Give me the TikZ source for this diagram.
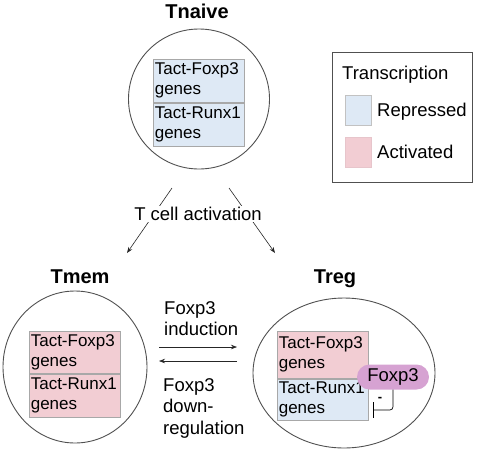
\documentclass[tikz,border=0pt]{standalone}
\usepackage{fontspec}
\setmainfont{Liberation Sans}
\usetikzlibrary{shapes.geometric,arrows.meta}
\definecolor{reprblue}{HTML}{DEE9F5}
\definecolor{actpink}{HTML}{F2CDD3}
\definecolor{pillpurple}{HTML}{D6A2D2}
\definecolor{cellgray}{HTML}{505050}
\definecolor{boxgray}{HTML}{A8A8A8}
\newcommand{\genesize}{\fontsize{17}{20}\selectfont}
\newcommand{\labsize}{\fontsize{18.5}{21.5}\selectfont}
\newcommand{\ttlsize}{\fontsize{20}{24}\selectfont\bfseries}
\tikzset{cell/.style={ellipse, draw=cellgray, line width=0.9pt, inner sep=0pt}}
\tikzset{genebox/.style={draw=boxgray, line width=0.6pt, text width=88pt, minimum height=43pt, inner xsep=1.5pt, inner ysep=2pt, align=left, anchor=north west, font=\genesize}}
\tikzset{repr/.style={genebox, fill=reprblue}, actv/.style={genebox, fill=actpink}}
\tikzset{arr/.style={-{Stealth[length=6pt,width=4.5pt]}, line width=0.6pt, draw=black!85}}
\tikzset{ttl/.style={font=\ttlsize, inner sep=0pt}}
\tikzset{lab/.style={font=\labsize, inner sep=0pt, align=left}}
\tikzset{swatch/.style={minimum width=26pt, minimum height=30pt, inner sep=0pt, line width=0.6pt}}

\begin{document}
\begin{tikzpicture}[x=1pt,y=-1pt]
\useasboundingbox (0,0) rectangle (482,451);

% cells
\node[ttl, anchor=base] (tnaive) at (197,18) {Tnaive};
\node[cell, minimum width=141pt, minimum height=140pt] (naive) at (199,99) {};
\node[repr] (naiveF) at (153,59) {Tact-Foxp3\\genes};
\node[repr] (naiveR) at (naiveF.south west) {Tact-Runx1\\genes};

\node[ttl, anchor=base] (tmem) at (80,283) {Tmem};
\node[cell, minimum width=144pt, minimum height=152pt] (mem) at (75,367) {};
\node[actv, minimum height=42pt] (memF) at (29,331) {Tact-Foxp3\\genes};
\node[actv] (memR) at (memF.south west) {Tact-Runx1\\genes};

\node[ttl, anchor=base] (ttreg) at (335,283) {Treg};
\node[cell, minimum width=182pt, minimum height=150pt] (treg) at (344,373) {};
\node[actv, minimum height=47pt] (tregF) at (277,331) {Tact-Foxp3\\genes};
\node[repr, minimum height=41pt] (tregR) at (tregF.south west) {Tact-Runx1\\genes};
\node[fill=pillpurple, rounded corners=12.5pt, minimum width=72pt, minimum height=25pt, inner sep=0pt, font=\labsize] (fox) at (393,377) {Foxp3};
\draw[line width=0.7pt] (fox.south) -- (393,403) .. controls (393,410) .. (386,410) -- (373,410);
\draw[line width=0.7pt] (373,402) -- (373,418);
\node[inner sep=0pt, font=\fontsize{13}{13}\selectfont\bfseries] (minus) at (380,399) {-};

% activation
\coordinate (actL0) at (172,188); \coordinate (actL1) at (127,253);
\coordinate (actR0) at (229,188); \coordinate (actR1) at (275,253);
\draw[arr] (actL0) -- (actL1);
\draw[arr] (actR0) -- (actR1);
\node[lab, fill=white, inner sep=1pt] (tact) at (198,214) {T cell activation};

% Tmem <-> Treg
\coordinate (indA) at (159,347); \coordinate (indB) at (237,347);
\coordinate (downA) at (237,361); \coordinate (downB) at (159,361);
\draw[arr] (indA) -- (indB);
\draw[arr] (downA) -- (downB);
\node[lab, anchor=north west] (ind) at (164,301) {Foxp3\\induction};
\node[lab, anchor=north west] (down) at (163,378) {Foxp3\\down-\\regulation};

% legend
\node[draw=cellgray, line width=0.8pt, minimum width=140pt, minimum height=130pt, inner sep=0pt] (legend) at (402,117) {};
\node[lab, anchor=base west] (ltitle) at (342,79) {Transcription};
\node[swatch, fill=reprblue, draw=boxgray!70] (swR) at (358,110) {};
\node[lab, anchor=base west] (lrep) at (377,116.7) {Repressed};
\node[swatch, fill=actpink, draw=actpink!90!gray] (swA) at (358,152) {};
\node[lab, anchor=base west] (lact) at (377,158.6) {Activated};
\end{tikzpicture}
\end{document}
